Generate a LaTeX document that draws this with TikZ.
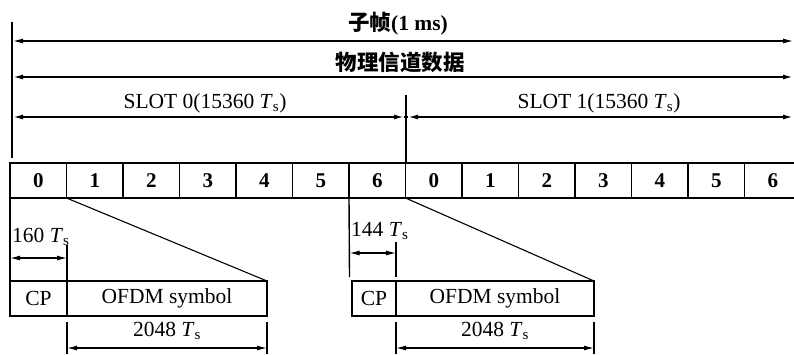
\documentclass[tikz,border=0pt]{standalone}
\usepackage{fontspec}
\setmainfont{Liberation Serif}
\newfontfamily\cjk{Noto Sans CJK SC}
\usetikzlibrary{arrows.meta}
\newcommand{\Ts}{\textit{T}\textsubscript{s}}
\begin{document}
\begin{tikzpicture}[x=1pt,y=-1pt,
  txt/.style={inner sep=0pt,font=\fontsize{21.5}{23}\selectfont},
  cell/.style={draw,line width=1.5pt,minimum width=56.5pt,minimum height=35pt,inner sep=0pt,outer sep=0pt,font=\fontsize{21}{23}\selectfont\bfseries},
  sym/.style={draw,line width=1.5pt,minimum height=35pt,inner sep=0pt,outer sep=0pt,font=\fontsize{21.5}{23}\selectfont},
  dim/.style={line width=1.2pt,{Latex[length=10pt,width=5pt]}-{Latex[length=10pt,width=5pt]}},
  vl/.style={line width=1.4pt}]
\useasboundingbox (0,0) rectangle (794,354);
% top dimension lines
\coordinate (vt) at (12,22);
\coordinate (vb) at (12,158);
\draw[line width=1.8pt] (vt) -- (vb);
\coordinate (a1) at (13,41);  \coordinate (b1) at (793,41);
\coordinate (a2) at (13,77);  \coordinate (b2) at (793,77);
\coordinate (a3) at (13,117); \coordinate (m3a) at (404,117);
\coordinate (m3b) at (408,117); \coordinate (b3) at (793,117);
\draw[dim,line width=1.1pt] (a1) -- (b1);
\draw[dim,line width=1.6pt] (a2) -- (b2);
\draw[dim,line width=1.6pt] (a3) -- (m3a);
\draw[dim,line width=1.6pt] (m3b) -- (b3);
\draw[line width=1.6pt] (m3a) -- (m3b);
\coordinate (mt) at (406,95);
\coordinate (mb) at (406,163);
\draw[line width=1.1pt] (mt) -- (mb);
\node[txt,font=\fontsize{21.5}{23}\selectfont\bfseries] (l1) at (398,24) {{\cjk 子帧}(1 ms)};
\node[txt,font=\fontsize{21.5}{23}\selectfont\cjk\bfseries] (l2) at (400,62) {物理信道数据};
\node[txt] (l3) at (205,103) {SLOT 0(15360 \Ts)};
\node[txt] (l4) at (599,103) {SLOT 1(15360 \Ts)};
% table
\foreach \i/\t in {0/0,1/1,2/2,3/3,4/4,5/5,6/6,7/0,8/1,9/2,10/3,11/4,12/5,13/6}
  \node[cell] (c\i) at ({10+56.5*(\i+0.5)},180.5) {\t};
% left symbol
\node[sym,minimum width=57pt] (cpA) at (38.5,298.5) {CP};
\node[sym,minimum width=200pt,anchor=west] (ofA) at (cpA.east) {OFDM symbol};
\draw[line width=1.1pt] (c1.south west) -- (ofA.north east);
\draw[vl] (c0.south west) -- (cpA.north west);
\coordinate (pA) at (67,245);
\draw[vl] (pA) -- (cpA.north east);
\coordinate (dA1) at (10,258); \coordinate (dA2) at (67,258);
\draw[dim] (dA1) -- (dA2);
\node[txt,anchor=west] (tA) at (12,237) {160 \Ts};
\coordinate (qA1) at (67,322); \coordinate (qA1b) at (67,354);
\coordinate (qA2) at (267,322); \coordinate (qA2b) at (267,354);
\draw[vl] (qA1) -- (qA1b);
\draw[vl] (qA2) -- (qA2b);
\coordinate (eA1) at (67,348); \coordinate (eA2) at (267,348);
\draw[dim] (eA1) -- (eA2);
\node[txt] (wA) at (167,331) {2048 \Ts};
% right symbol
\node[sym,minimum width=44pt] (cpB) at (374,298.5) {CP};
\node[sym,minimum width=198pt,anchor=west] (ofB) at (cpB.east) {OFDM symbol};
\draw[line width=1.1pt] (c7.south west) -- (ofB.north east);
\coordinate (pB0) at (349.5,277);
\draw[vl] (c6.south west) -- (pB0);
\coordinate (pB1) at (396,242); \coordinate (pB2) at (396,277);
\draw[vl] (pB1) -- (pB2);
\coordinate (dB1) at (349.5,253); \coordinate (dB2) at (396,253);
\draw[dim] (dB1) -- (dB2);
\node[txt,anchor=west] (tB) at (351,231) {144 \Ts};
\coordinate (qB1) at (396,322); \coordinate (qB1b) at (396,354);
\coordinate (qB2) at (594,322); \coordinate (qB2b) at (594,354);
\draw[vl] (qB1) -- (qB1b);
\draw[vl] (qB2) -- (qB2b);
\coordinate (eB1) at (396,348); \coordinate (eB2) at (594,348);
\draw[dim] (eB1) -- (eB2);
\node[txt] (wB) at (495,331) {2048 \Ts};
\end{tikzpicture}
\end{document}
